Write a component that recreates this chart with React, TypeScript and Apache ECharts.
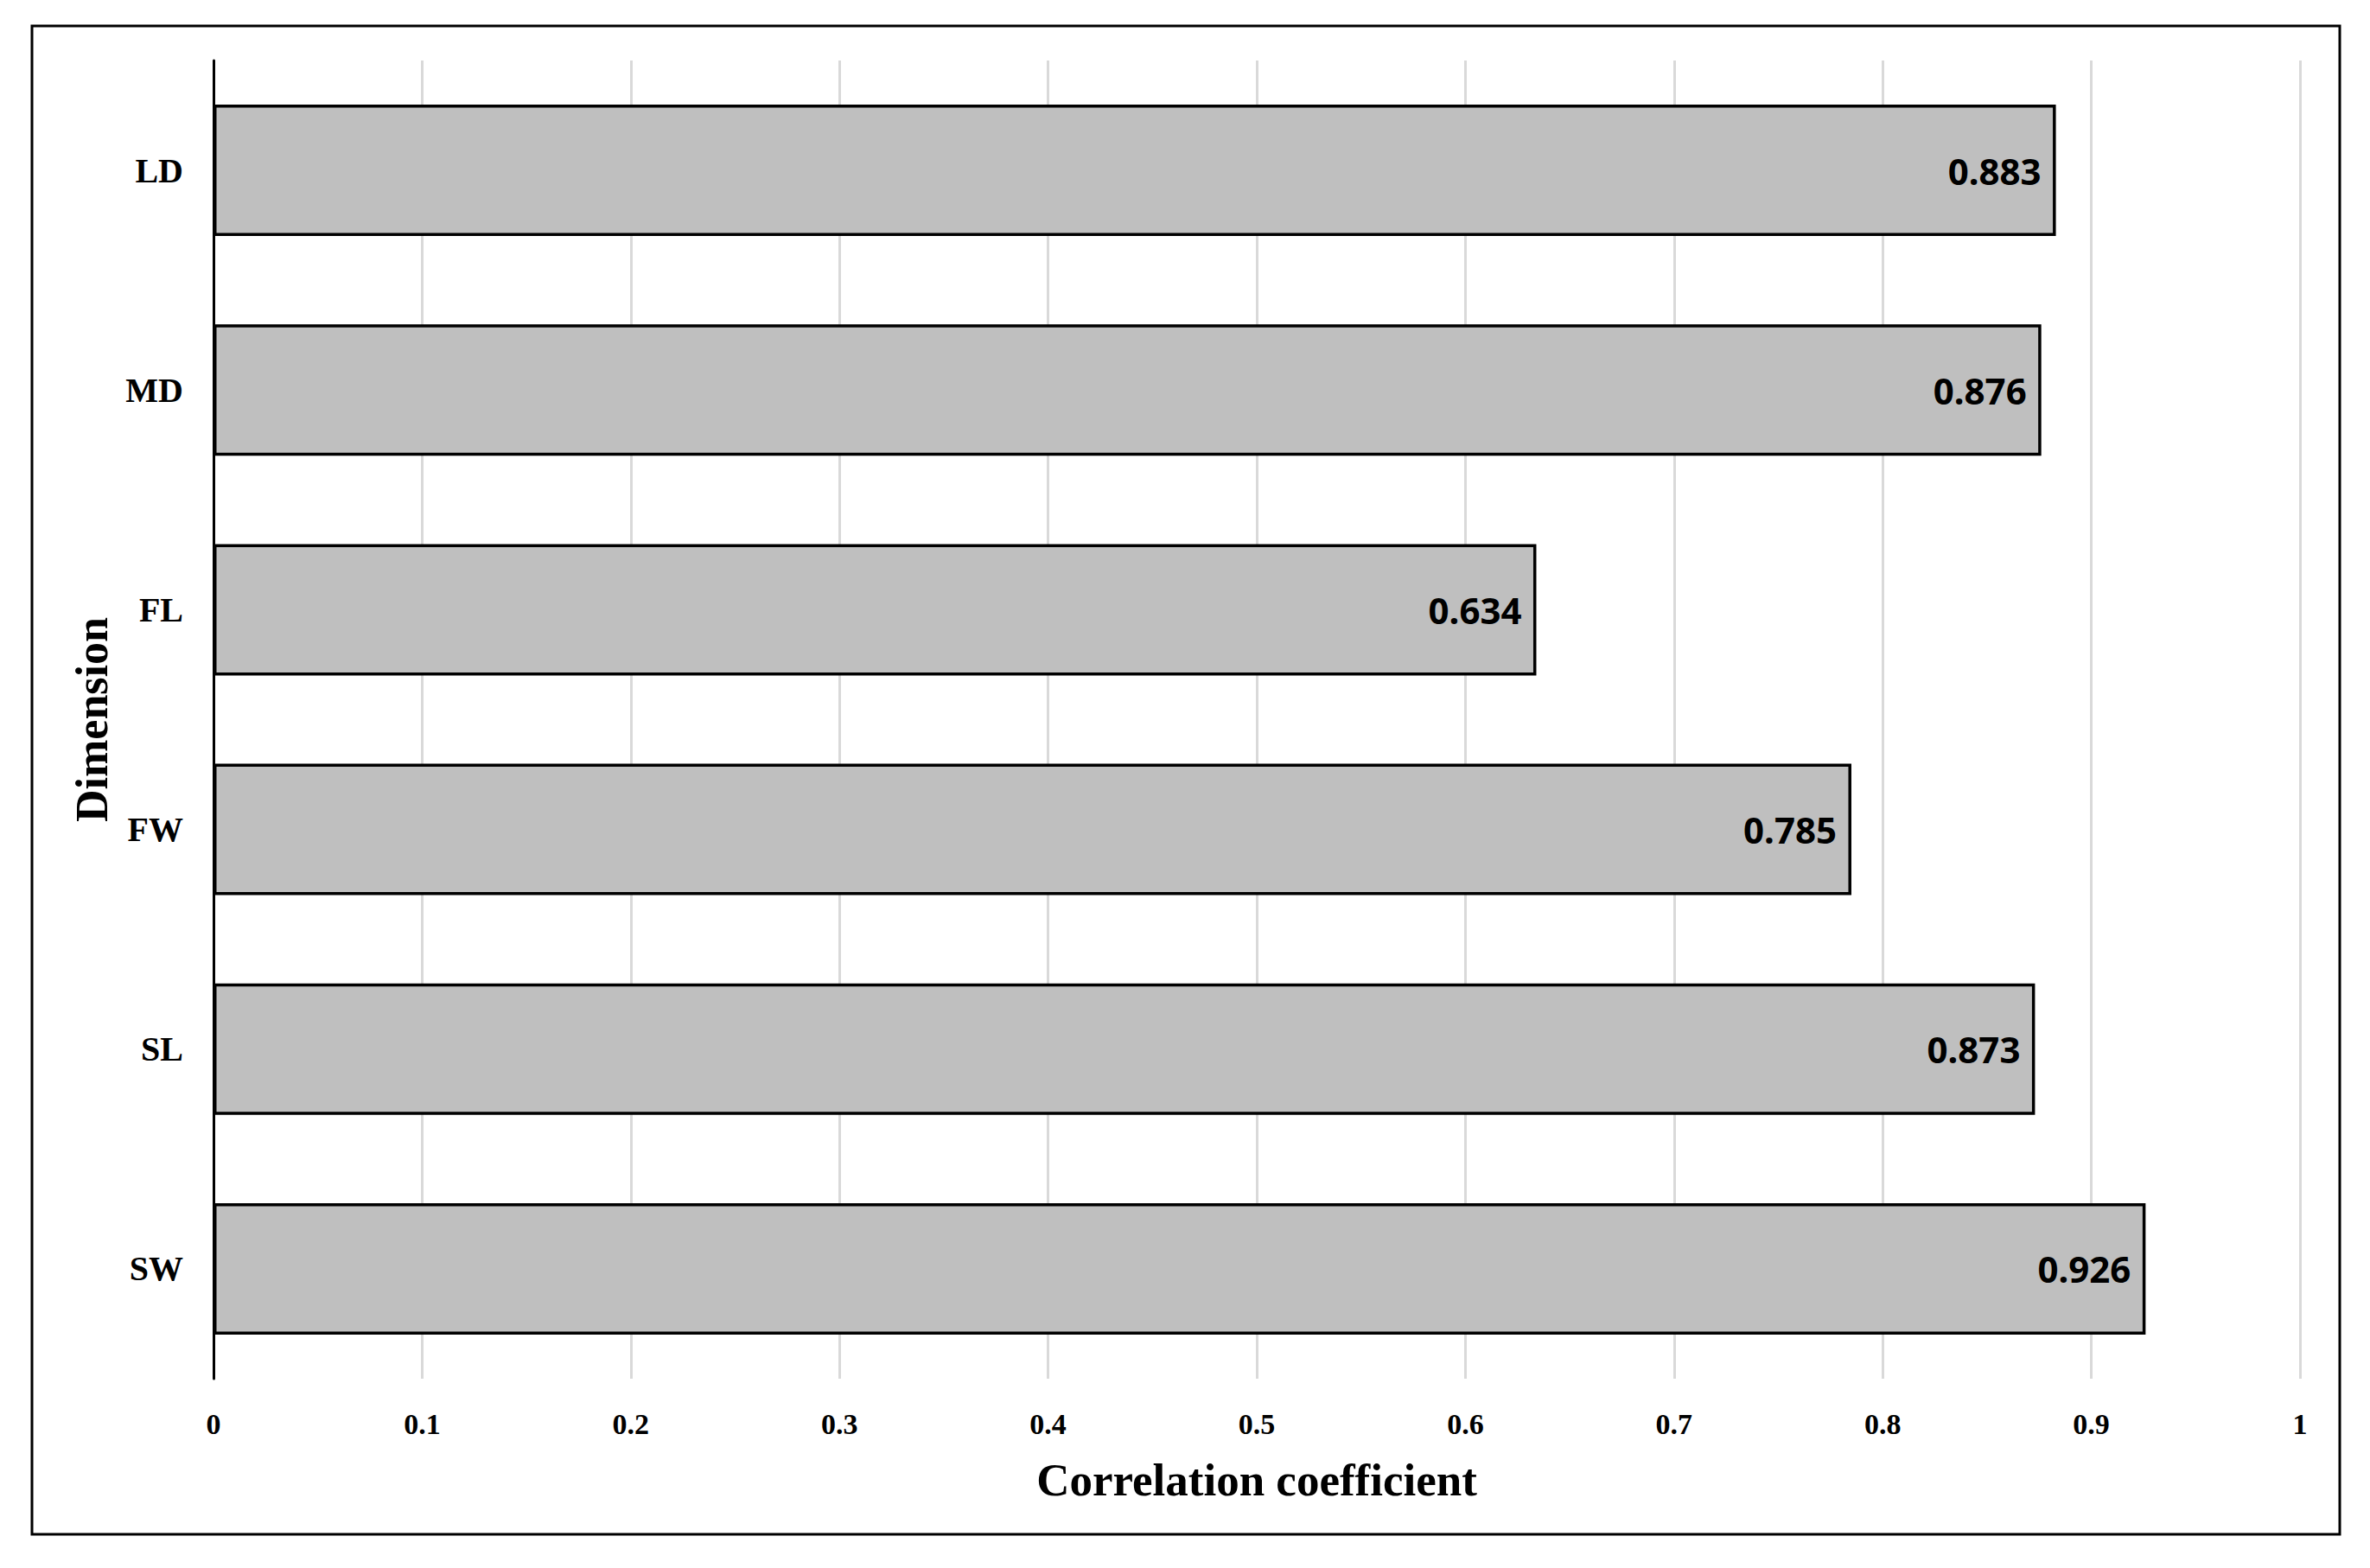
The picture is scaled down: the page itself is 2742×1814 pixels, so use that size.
import React, { useEffect, useRef } from "react";
import * as echarts from "echarts";

const categories = ["LD", "MD", "FL", "FW", "SL", "SW"];
const values = [0.883, 0.876, 0.634, 0.785, 0.873, 0.926];
const xTicks = [0, 0.1, 0.2, 0.3, 0.4, 0.5, 0.6, 0.7, 0.8, 0.9, 1];
const xTitle = "Correlation coefficient";
const yTitle = "Dimension";

export default function App() {
  const ref = useRef<HTMLDivElement>(null);
  useEffect(() => {
    if (!ref.current) return;
    const chart = echarts.init(ref.current, null, { renderer: "svg" });
    const serif = "'Liberation Serif', 'Times New Roman', serif";
    chart.setOption({
      animation: false,
      backgroundColor: "#ffffff",
      grid: { left: 247, right: 81, top: 70, bottom: 219, containLabel: false },
      graphic: [
        {
          type: "rect",
          shape: { x: 37, y: 30, width: 2670, height: 1745 },
          style: { fill: "none", stroke: "#000000", lineWidth: 3 },
          silent: true,
        },
      ],
      xAxis: {
        type: "value",
        min: xTicks[0],
        max: xTicks[xTicks.length - 1],
        interval: 0.1,
        name: xTitle,
        nameLocation: "middle",
        nameGap: 90,
        nameTextStyle: { fontFamily: serif, fontWeight: "bold", fontSize: 53, color: "#000" },
        axisLine: { show: false },
        axisTick: { show: false },
        axisLabel: {
          fontFamily: serif,
          fontWeight: "bold",
          fontSize: 34,
          color: "#000",
          margin: 35,
        },
        splitLine: { show: true, lineStyle: { color: "#d9d9d9", width: 3 } },
      },
      yAxis: {
        type: "category",
        data: categories,
        inverse: true,
        name: yTitle,
        nameLocation: "middle",
        nameGap: 115,
        nameRotate: 90,
        nameTextStyle: { fontFamily: serif, fontWeight: "bold", fontSize: 52, color: "#000" },
        axisLine: { show: true, lineStyle: { color: "#000", width: 3 } },
        axisTick: { show: false },
        axisLabel: {
          fontFamily: serif,
          fontWeight: "bold",
          fontSize: 40,
          color: "#000",
          margin: 35,
        },
        splitLine: { show: false },
      },
      series: [
        {
          type: "bar",
          data: values,
          barWidth: 152,
          itemStyle: { color: "#bfbfbf", borderColor: "#000", borderWidth: 3.5 },
          label: {
            show: true,
            position: "insideRight",
            distance: 17,
            formatter: (p: any) => p.value.toFixed(3),
            fontFamily: "'Noto Sans', 'Open Sans', sans-serif",
            fontWeight: "bold",
            fontSize: 42,
            color: "#000",
          },
        },
      ],
    });
    return () => chart.dispose();
  }, []);
  return (
    <div
      ref={ref}
      style={{ position: "absolute", left: 0, top: 0, width: 2742, height: 1814 }}
    />
  );
}
